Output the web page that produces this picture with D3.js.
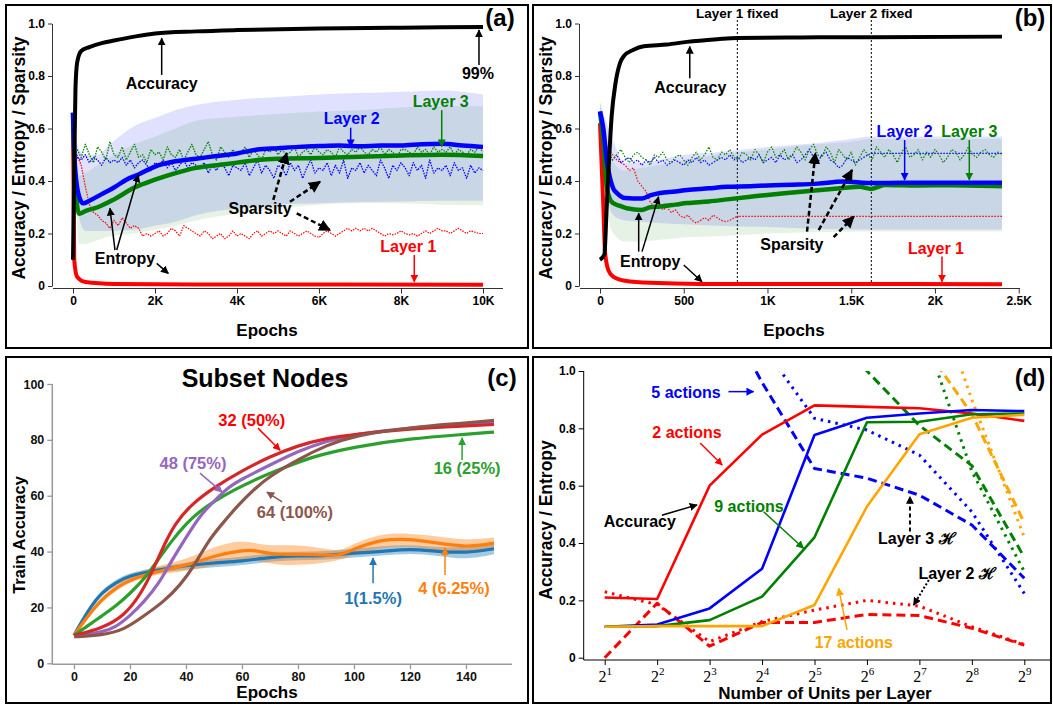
<!DOCTYPE html>
<html>
<head>
<meta charset="utf-8">
<script src="https://cdn.jsdelivr.net/npm/d3@7"></script>
<style>
  body { margin: 0; background: #fff; }
  svg { display: block; }
  text { font-family: "Liberation Sans", Arial, Helvetica, sans-serif; }
</style>
</head>
<body>
<script>
// ---------------- panel (a) data ----------------
const accEpochsA = [0, 30, 60, 100, 200, 400, 700, 1000, 1500, 2000, 3000, 4000, 6000, 8000, 10000];
const accA = [0.1, 0.45, 0.75, 0.85, 0.895, 0.91, 0.925, 0.935, 0.95, 0.962, 0.97, 0.975, 0.981, 0.984, 0.987];
const l1EpochsA = [0, 30, 100, 300, 1000, 3000, 10000];
const l1EntA = [0.62, 0.1, 0.035, 0.015, 0.008, 0.006, 0.005];
const l2EpochsA = [0, 50, 150, 250, 400, 700, 1000, 1300, 1600, 2000, 2500, 3000, 3500, 4000, 4500, 5000, 5500, 6000, 6500, 7000, 7500, 8000, 8500, 9000, 9500, 10000];
const l2EntA = [0.66, 0.45, 0.34, 0.315, 0.325, 0.35, 0.375, 0.405, 0.425, 0.455, 0.475, 0.485, 0.495, 0.505, 0.52, 0.525, 0.53, 0.533, 0.535, 0.532, 0.535, 0.535, 0.54, 0.542, 0.535, 0.53];
const l3EpochsA = [0, 50, 150, 300, 600, 1000, 1500, 2000, 2500, 3000, 3500, 4000, 4500, 5000, 6000, 7000, 8000, 9000, 10000];
const l3EntA = [0.66, 0.4, 0.275, 0.285, 0.3, 0.33, 0.375, 0.405, 0.43, 0.45, 0.46, 0.47, 0.48, 0.485, 0.488, 0.492, 0.497, 0.5, 0.495];
const bandEpochsA = [0, 150, 300, 600, 900, 1500, 2000, 2500, 3000, 4000, 5000, 6000, 7000, 8000, 9000, 10000];
const l2UpA = [0.67, 0.52, 0.5, 0.5, 0.54, 0.61, 0.64, 0.67, 0.69, 0.71, 0.72, 0.73, 0.735, 0.74, 0.745, 0.73];
const l2LoA = [0.66, 0.26, 0.21, 0.21, 0.21, 0.215, 0.23, 0.245, 0.27, 0.295, 0.31, 0.315, 0.32, 0.322, 0.325, 0.325];
const l3UpA = [0.67, 0.42, 0.43, 0.46, 0.49, 0.54, 0.57, 0.6, 0.63, 0.645, 0.655, 0.665, 0.67, 0.68, 0.685, 0.685];
const l3LoA = [0.66, 0.16, 0.16, 0.175, 0.19, 0.2, 0.215, 0.23, 0.25, 0.275, 0.295, 0.31, 0.315, 0.315, 0.31, 0.308];
// sparsity, one value every 100 epochs from epoch 100
const sparStepA = 100;
const l1SparA = [0.50,0.46,0.38,0.31,0.28,0.27,0.25,0.24,0.22,0.25, 0.23,0.26,0.24,0.22,0.23,0.22,0.19,0.20,0.19,0.20,
  0.21,0.19,0.20,0.22,0.21,0.19,0.23,0.22,0.21,0.20, 0.19,0.21,0.20,0.18,0.19,0.20,0.18,0.19,0.21,0.19,
  0.20,0.19,0.18,0.20,0.21,0.19,0.20,0.21,0.20,0.21, 0.20,0.19,0.21,0.20,0.19,0.20,0.21,0.20,0.19,0.185,
  0.20,0.21,0.20,0.19,0.20,0.21,0.22,0.21,0.22,0.21, 0.22,0.21,0.22,0.21,0.20,0.19,0.20,0.195,0.20,0.21,
  0.20,0.195,0.20,0.19,0.20,0.21,0.20,0.21,0.22,0.21, 0.21,0.20,0.21,0.22,0.21,0.20,0.21,0.205,0.20,0.20];
const l2SparA = [0.49,0.48,0.50,0.47,0.49,0.48,0.46,0.49,0.47,0.48, 0.47,0.49,0.46,0.48,0.45,0.47,0.48,0.46,0.44,0.47,
  0.46,0.48,0.45,0.47,0.44,0.46,0.48,0.45,0.47,0.46, 0.45,0.47,0.43,0.46,0.44,0.47,0.45,0.42,0.46,0.45,
  0.44,0.47,0.42,0.45,0.48,0.43,0.46,0.44,0.41,0.46, 0.45,0.42,0.47,0.44,0.46,0.41,0.45,0.48,0.43,0.45,
  0.44,0.47,0.42,0.46,0.43,0.48,0.41,0.45,0.44,0.47, 0.43,0.46,0.44,0.42,0.48,0.45,0.41,0.46,0.44,0.47,
  0.45,0.42,0.47,0.44,0.46,0.41,0.48,0.43,0.45,0.44, 0.46,0.42,0.47,0.44,0.45,0.41,0.46,0.43,0.45,0.44];
const l3SparA = [0.52,0.49,0.54,0.50,0.47,0.53,0.51,0.48,0.55,0.50, 0.49,0.53,0.48,0.51,0.54,0.49,0.50,0.47,0.52,0.50,
  0.51,0.48,0.53,0.50,0.49,0.52,0.48,0.51,0.54,0.50, 0.49,0.52,0.55,0.50,0.48,0.53,0.51,0.49,0.52,0.50,
  0.51,0.53,0.49,0.52,0.50,0.48,0.52,0.51,0.53,0.50, 0.52,0.50,0.51,0.53,0.49,0.51,0.52,0.50,0.53,0.51,
  0.50,0.52,0.51,0.49,0.53,0.51,0.50,0.52,0.51,0.53, 0.51,0.50,0.52,0.51,0.53,0.50,0.52,0.51,0.49,0.52,
  0.52,0.51,0.50,0.53,0.51,0.52,0.50,0.53,0.51,0.52, 0.51,0.53,0.50,0.52,0.51,0.50,0.52,0.51,0.53,0.51];
const ticksA = [0, 2000, 4000, 6000, 8000, 10000];

// ---------------- panel (b) data ----------------
const accEpochsB = [0, 26, 40, 52, 70, 92, 120, 141, 200, 261, 400, 520, 700, 820, 1200, 1620, 2400];
const accB = [0.1, 0.12, 0.3, 0.455, 0.65, 0.77, 0.85, 0.875, 0.9, 0.913, 0.92, 0.93, 0.94, 0.945, 0.947, 0.948, 0.95];
const l1EpochsB = [0, 20, 30, 50, 80, 150, 300, 600, 2400];
const l1EntB = [0.62, 0.3, 0.13, 0.06, 0.035, 0.02, 0.012, 0.008, 0.007];
const l2EpochsB = [0, 20, 40, 60, 80, 100, 150, 250, 300, 360, 450, 520, 650, 760, 900, 1000, 1150, 1300, 1450, 1550, 1620, 1800, 2000, 2200, 2400];
const l2EntB = [0.665, 0.6, 0.48, 0.41, 0.37, 0.355, 0.335, 0.333, 0.345, 0.354, 0.36, 0.366, 0.372, 0.378, 0.38, 0.383, 0.386, 0.39, 0.398, 0.394, 0.392, 0.393, 0.393, 0.393, 0.393];
const l3EpochsB = [0, 20, 40, 60, 80, 120, 160, 250, 300, 360, 450, 520, 650, 760, 900, 1000, 1150, 1300, 1450, 1550, 1620, 1700, 1900, 2100, 2400];
const l3EntB = [0.665, 0.55, 0.38, 0.33, 0.315, 0.305, 0.296, 0.29, 0.3, 0.303, 0.31, 0.316, 0.322, 0.33, 0.34, 0.347, 0.356, 0.365, 0.373, 0.378, 0.37, 0.385, 0.383, 0.384, 0.38];
const bandEpochsB = [0, 40, 80, 150, 250, 350, 500, 700, 1000, 1300, 1500, 1620, 2000, 2400];
const l2UpB = [0.7, 0.62, 0.55, 0.47, 0.47, 0.48, 0.5, 0.51, 0.53, 0.545, 0.56, 0.57, 0.57, 0.57];
const l2LoB = [0.64, 0.35, 0.27, 0.25, 0.245, 0.24, 0.235, 0.23, 0.225, 0.218, 0.215, 0.215, 0.215, 0.215];
const l3UpB = [0.7, 0.55, 0.47, 0.44, 0.45, 0.46, 0.48, 0.5, 0.52, 0.54, 0.55, 0.56, 0.56, 0.56];
const l3LoB = [0.64, 0.3, 0.2, 0.17, 0.17, 0.175, 0.185, 0.19, 0.2, 0.205, 0.207, 0.208, 0.208, 0.208];
const sparStepB = 25;
const l1SparB = [0.55,0.52,0.50,0.48,0.47,0.46,0.44,0.45,0.40,0.38,0.36,0.32,0.30,0.31,0.29,0.30,0.28,0.29,0.27,0.26,
  0.27,0.25,0.24,0.25,0.26,0.25,0.27,0.26,0.25,0.245,0.25,0.26,0.265];
const l1FixedB = 0.265;
const l2SparB = [0.50,0.49,0.48,0.50,0.47,0.48,0.49,0.47,0.48,0.46,0.48,0.47,0.49,0.47,0.48,0.46,0.47,0.48,0.47,0.46,
  0.48,0.47,0.49,0.47,0.48,0.46,0.47,0.48,0.49,0.48,0.50,0.48,0.49,0.47,0.48,0.49,0.48,0.50,0.47,0.48,
  0.49,0.47,0.50,0.48,0.49,0.50,0.47,0.48,0.50,0.52,0.49,0.47,0.50,0.51,0.48,0.47,0.45,0.46,0.49,0.48,
  0.47,0.48,0.49,0.50];
const l2FixedB = 0.505;
const l3SparB = [0.49,0.51,0.48,0.50,0.52,0.49,0.47,0.50,0.51,0.49,0.48,0.46,0.50,0.49,0.51,0.48,0.47,0.49,0.50,0.48,
  0.46,0.49,0.51,0.48,0.50,0.53,0.49,0.48,0.51,0.50,0.52,0.49,0.48,0.51,0.50,0.48,0.52,0.50,0.47,0.51,
  0.53,0.49,0.50,0.52,0.48,0.50,0.53,0.51,0.48,0.52,0.54,0.50,0.49,0.53,0.51,0.47,0.52,0.50,0.48,0.51,
  0.46,0.49,0.52,0.50,0.48,0.53,0.51,0.49,0.52,0.50,0.47,0.51,0.53,0.49,0.50,0.52,0.48,0.51,0.49,0.52,
  0.50,0.47,0.49,0.52,0.51,0.48,0.50,0.53,0.50,0.49,0.51,0.52,0.50,0.49,0.51,0.50];
const fixedEpochsB = [820, 1620];
const fixedLabelsB = ['Layer 1 fixed', 'Layer 2 fixed'];
const ticksB = [0, 500, 1000, 1500, 2000, 2500];
const lastEpochB = 2400;

// ---------------- panel (c) data ----------------
const subsetSeries = [
  { name: '1(1.5%)', color: '#1f77b4',
    x: [0, 5, 10, 15, 20, 30, 40, 50, 60, 70, 80, 90, 100, 110, 120, 130, 140, 150],
    y: [10, 19, 25.5, 29, 31.5, 33.5, 35, 36, 36.5, 38, 38.5, 38.5, 39.5, 40, 41, 40, 39.5, 41],
    up: [10, 20, 26.5, 30, 32.5, 34.5, 36, 37.5, 38, 39.5, 40, 40, 41, 42, 42.5, 41.5, 41.5, 43],
    lo: [10, 18, 24.5, 28, 30.5, 32.5, 33.5, 34.5, 35, 36.5, 37, 37, 38, 38.5, 39.5, 38.5, 37, 39] },
  { name: '4 (6.25%)', color: '#ff7f0e',
    x: [0, 5, 10, 15, 20, 30, 40, 50, 60, 65, 70, 80, 90, 95, 100, 110, 120, 130, 140, 150],
    y: [10, 17, 23, 27, 30, 33, 35, 38.5, 40.5, 40.5, 39, 39, 38.8, 38.5, 41, 44.5, 44.5, 43, 41.5, 43],
    up: [10, 18, 24, 28, 31.5, 35, 37, 42, 44, 43, 42, 42.5, 41, 40, 43, 46.5, 46.5, 45.5, 44, 45],
    lo: [10, 16, 22, 26, 29, 32, 33, 35, 37, 37, 35.5, 35, 36, 37, 39, 41.5, 42, 40.5, 39.5, 41] },
  { name: '16 (25%)', color: '#2ca02c',
    x: [0, 5, 10, 15, 20, 25, 30, 35, 40, 45, 50, 57, 65, 75, 85, 100, 120, 140, 150],
    y: [10, 13.5, 17, 20.5, 25, 30, 37, 44, 50, 54.5, 58, 62, 66, 70, 74, 77.5, 80.5, 82, 82.8] },
  { name: '48 (75%)', color: '#9467bd',
    x: [0, 10, 15, 20, 25, 30, 35, 40, 45, 50, 55, 60, 70, 80, 90, 100, 120, 150],
    y: [10, 11, 13, 17, 22, 28, 37, 45, 53, 58, 63, 66, 71, 76, 79.5, 82, 84.5, 86] },
  { name: '32 (50%)', color: '#d62728',
    x: [0, 10, 18, 24, 28, 32, 36, 42, 50, 60, 70, 80, 90, 100, 120, 140, 150],
    y: [10, 12.5, 17, 25, 33, 42, 50, 57, 63, 69, 74, 78, 80.5, 82, 84, 85, 85.5] },
  { name: '64 (100%)', color: '#8c564b',
    x: [0, 10, 18, 25, 32, 38, 43, 48, 53, 58, 65, 70, 80, 90, 100, 120, 140, 150],
    y: [9.5, 10, 12, 17, 22, 28, 35, 44, 50, 56, 63, 67, 73, 78, 81.5, 84.5, 86, 87] }
];
const ticksCx = [0, 20, 40, 60, 80, 100, 120, 140];
const ticksCy = [0, 20, 40, 60, 80, 100];

// ---------------- panel (d) data ----------------
const unitsD = [2, 4, 8, 16, 32, 64, 128, 256, 512];
const actionNames = ['2 actions', '5 actions', '9 actions', '17 actions'];
const actionColors = ['#ff0000', '#0000ff', '#008000', '#ffa500'];
const accD = [
  [0.21, 0.205, 0.6, 0.778, 0.88, 0.875, 0.87, 0.852, 0.826],
  [0.108, 0.116, 0.172, 0.31, 0.777, 0.837, 0.852, 0.864, 0.86],
  [0.108, 0.11, 0.131, 0.213, 0.42, 0.821, 0.823, 0.849, 0.852],
  [0.108, 0.11, 0.11, 0.11, 0.184, 0.527, 0.779, 0.837, 0.847]
];
const layer3H = [
  [0, 0.19, 0.04, 0.123, 0.123, 0.151, 0.147, 0.103, 0.044],
  [null, null, 1.3, 0.96, 0.66, 0.626, 0.567, 0.463, 0.277],
  [null, null, null, null, 1.25, 1.0, 0.81, 0.67, 0.35],
  [null, null, null, null, null, 1.5, 1.11, 0.85, 0.47]
];
const layer2H = [
  [0.23, 0.185, 0.056, 0.126, 0.166, 0.2, 0.18, 0.108, 0.046],
  [null, null, 1.5, 1.09, 0.835, 0.794, 0.707, 0.509, 0.224],
  [null, null, null, null, null, 1.5, 1.18, 0.65, 0.3],
  [null, null, null, null, null, 1.6, 1.43, 0.9, 0.42]
];
const ticksDy = [0, 0.2, 0.4, 0.6, 0.8, 1.0];

// ---------------- setup ----------------
const svg = d3.select('body').append('svg').attr('width', 1053).attr('height', 707);
const defs = svg.append('defs');
const markerColors = {
  black: '#000', red: '#ff0000', blue: '#0000ff', green: '#008000', orange: '#ffa500',
  tblue: '#1f77b4', torange: '#ff7f0e', tgreen: '#2ca02c', tred: '#d62728', tpurple: '#9467bd', tbrown: '#8c564b'
};
Object.entries(markerColors).forEach(([k, c]) => {
  defs.append('marker').attr('id', 'ah-' + k).attr('viewBox', '0 0 10 10')
    .attr('refX', 9).attr('refY', 5).attr('markerWidth', 8).attr('markerHeight', 8)
    .attr('markerUnits', 'userSpaceOnUse').attr('orient', 'auto')
    .append('path').attr('d', 'M0,0L10,5L0,10z').attr('fill', c);
});
defs.append('marker').attr('id', 'ah-big').attr('viewBox', '0 0 10 10')
  .attr('refX', 9).attr('refY', 5).attr('markerWidth', 12).attr('markerHeight', 12)
  .attr('markerUnits', 'userSpaceOnUse').attr('orient', 'auto')
  .append('path').attr('d', 'M0,0L10,5L0,10z').attr('fill', '#000');

function clip(id, x0, y0, x1, y1) {
  defs.append('clipPath').attr('id', id).append('rect')
    .attr('x', x0).attr('y', y0).attr('width', x1 - x0).attr('height', y1 - y0);
  return 'url(#' + id + ')';
}

function frame(x, y, w, h) {
  svg.append('rect').attr('x', x).attr('y', y).attr('width', w).attr('height', h)
    .attr('fill', 'none').attr('stroke', '#000').attr('stroke-width', 2);
}

function label(g, x, y, txt, opts = {}) {
  return g.append('text').attr('x', x).attr('y', y).attr('dy', '0.35em')
    .attr('text-anchor', opts.anchor || 'middle')
    .attr('font-size', opts.size || 16).attr('font-weight', opts.weight || 'bold')
    .attr('fill', opts.color || '#000').text(txt);
}

function arrow(g, sx, sy, p, q, color, mk, w = 1.5, dash = null) {
  const l = g.append('line')
    .attr('x1', sx(p[0])).attr('y1', sy(p[1])).attr('x2', sx(q[0])).attr('y2', sy(q[1]))
    .attr('stroke', color).attr('stroke-width', w).attr('marker-end', 'url(#' + mk + ')');
  if (dash) l.attr('stroke-dasharray', dash);
}

function series(xs, ys) { return xs.map((d, i) => [d, ys[i]]); }
function stepSeries(step, ys) { return ys.map((v, i) => [(i + 1) * step, v]); }

function drawLine(g, pts, sx, sy, color, w, dash, curve) {
  const line = d3.line().defined(d => d[1] !== null)
    .x(d => sx(d[0])).y(d => sy(d[1])).curve(curve || d3.curveMonotoneX);
  const p = g.append('path').datum(pts).attr('d', line).attr('fill', 'none')
    .attr('stroke', color).attr('stroke-width', w).attr('stroke-linejoin', 'round');
  if (dash) p.attr('stroke-dasharray', dash);
  return p;
}

function drawBand(g, xs, up, lo, sx, sy, color, op, curve) {
  const area = d3.area().x((d, i) => sx(xs[i])).y0((d, i) => sy(lo[i])).y1((d, i) => sy(up[i]))
    .curve(curve || d3.curveMonotoneX);
  g.append('path').datum(xs).attr('d', area).attr('fill', color).attr('fill-opacity', op);
}

// spine-style axes used in panels (a) and (b)
function axesAB(g, sx, sy, ticks, fmt, xLeft, xRight) {
  const yAx = g.append('g').attr('transform', 'translate(52,0)')
    .call(d3.axisLeft(sy).tickValues([0, 0.2, 0.4, 0.6, 0.8, 1.0]).tickSize(4).tickSizeOuter(0)
      .tickFormat(d => d === 0 ? '0' : d3.format('.1f')(d)));
  const xAx = g.append('g').attr('transform', 'translate(0,288.5)')
    .call(d3.axisBottom(sx).tickValues(ticks).tickSize(5).tickSizeOuter(0).tickFormat(fmt));
  [yAx, xAx].forEach(a => {
    a.selectAll('text').attr('font-size', 12).attr('font-weight', 'bold').attr('fill', '#000');
    a.selectAll('line').attr('stroke', '#333');
    a.select('.domain').attr('stroke', '#333');
  });
  xAx.select('.domain').attr('d', `M${xLeft},0H${xRight}`);
}

// ================= panel (a) =================
frame(6, 5, 522, 343);
{
  const g = svg.append('g');
  const x = d3.scaleLinear().domain([0, 10000]).range([73, 483]);
  const y = d3.scaleLinear().domain([0, 1]).range([286, 23.5]);
  axesAB(g, x, y, ticksA, d => d === 0 ? '0' : (d / 1000) + 'K', 53, 503);
  label(g, 267, 330, 'Epochs', { size: 17 });
  label(g, 0, 0, 'Accuracy / Entropy / Sparsity', { size: 17.5 })
    .attr('transform', 'translate(19,158) rotate(-90)');
  label(g, 500, 18, '(a)', { size: 24 });

  const pg = g.append('g').attr('clip-path', clip('clipA', 53, 10, 503, 290));
  drawBand(pg, bandEpochsA, l2UpA, l2LoA, x, y, '#0000ff', 0.12);
  drawBand(pg, bandEpochsA, l3UpA, l3LoA, x, y, '#008000', 0.1);
  drawLine(pg, stepSeries(sparStepA, l1SparA), x, y, '#ff0000', 1.2, '1.5,1.2', d3.curveLinear);
  drawLine(pg, stepSeries(sparStepA, l2SparA), x, y, '#0000ff', 1.3, '1.5,1.2', d3.curveLinear);
  drawLine(pg, stepSeries(sparStepA, l3SparA), x, y, '#008000', 1.3, '1.5,1.2', d3.curveLinear);
  drawLine(pg, series(l1EpochsA, l1EntA), x, y, '#ff0000', 4);
  drawLine(pg, series(l3EpochsA, l3EntA), x, y, '#008000', 4.5);
  drawLine(pg, series(l2EpochsA, l2EntA), x, y, '#0000ff', 4.5);
  drawLine(pg, series(accEpochsA, accA), x, y, '#000', 4);

  label(g, x(2163), y(0.772), 'Accuracy');
  arrow(g, x, y, [2163, 0.804], [2163, 0.944], '#000', 'ah-black');
  label(g, x(9878), y(0.811), '99%');
  arrow(g, x, y, [9902, 0.842], [9902, 0.975], '#000', 'ah-black');
  label(g, x(8968), y(0.702), 'Layer 3', { color: '#008000' });
  arrow(g, x, y, [8993, 0.67], [8993, 0.531], '#008000', 'ah-green');
  label(g, x(6798), y(0.639), 'Layer 2', { color: '#0000ff' });
  arrow(g, x, y, [6773, 0.603], [6773, 0.531], '#0000ff', 'ah-blue');
  label(g, x(8178), y(0.15), 'Layer 1', { color: '#ff0000' });
  arrow(g, x, y, [8324, 0.118], [8324, 0.016], '#ff0000', 'ah-red');
  label(g, x(4561), y(0.296), 'Sparsity');
  arrow(g, x, y, [4885, 0.328], [5212, 0.506], '#000', 'ah-big', 2.5, '5,3');
  arrow(g, x, y, [5293, 0.321], [6024, 0.397], '#000', 'ah-big', 2.5, '5,3');
  arrow(g, x, y, [5456, 0.277], [6268, 0.213], '#000', 'ah-big', 2.5, '5,3');
  label(g, x(1268), y(0.106), 'Entropy');
  arrow(g, x, y, [1024, 0.137], [902, 0.296], '#000', 'ah-black');
  arrow(g, x, y, [1066, 0.137], [1593, 0.423], '#000', 'ah-black');
  arrow(g, x, y, [2041, 0.086], [2324, 0.048], '#000', 'ah-black');
}

// ================= panel (b) =================
frame(533, 5, 518, 343);
{
  const g = svg.append('g');
  const x = d3.scaleLinear().domain([0, 2500]).range([600, 1018.7]);
  const y = d3.scaleLinear().domain([0, 1]).range([286, 23.5]);
  const ag = g.append('g').attr('transform', 'translate(527,0)');
  const xs = x.copy().range([600 - 527, 1018.7 - 527]);
  axesAB(ag, xs, y, ticksB, d => d === 0 ? '0' : d < 1000 ? String(d) : (d / 1000) + 'K', 53, 493);
  label(g, 794, 330, 'Epochs', { size: 17 });
  label(g, 0, 0, 'Accuracy / Entropy / Sparsity', { size: 17.5 })
    .attr('transform', 'translate(546,158) rotate(-90)');
  label(g, 1030, 18, '(b)', { size: 24 });

  fixedEpochsB.forEach((e, i) => {
    g.append('line').attr('x1', x(e)).attr('x2', x(e)).attr('y1', 20).attr('y2', 288)
      .attr('stroke', '#000').attr('stroke-width', 1).attr('stroke-dasharray', '2,2');
    label(g, x(e), 13, fixedLabelsB[i], { size: 13.5 });
  });

  const pg = g.append('g').attr('clip-path', clip('clipB', 580, 22, 1030, 290));
  drawBand(pg, bandEpochsB, l2UpB, l2LoB, x, y, '#0000ff', 0.12);
  drawBand(pg, bandEpochsB, l3UpB, l3LoB, x, y, '#008000', 0.1);
  drawLine(pg, stepSeries(sparStepB, l1SparB).concat([[fixedEpochsB[0], l1FixedB], [lastEpochB, l1FixedB]]),
    x, y, '#ff0000', 1.2, '1.5,1.5', d3.curveLinear);
  drawLine(pg, stepSeries(sparStepB, l2SparB).concat([[fixedEpochsB[1], l2FixedB], [lastEpochB, l2FixedB]]),
    x, y, '#0000ff', 1.2, '1.5,1.5', d3.curveLinear);
  drawLine(pg, stepSeries(sparStepB, l3SparB), x, y, '#008000', 1.2, '1.5,1.5', d3.curveLinear);
  drawLine(pg, series(l1EpochsB, l1EntB), x, y, '#ff0000', 4);
  drawLine(pg, series(l3EpochsB, l3EntB), x, y, '#008000', 4.5);
  drawLine(pg, series(l2EpochsB, l2EntB), x, y, '#0000ff', 4.5);
  drawLine(pg, series(accEpochsB, accB), x, y, '#000', 4);

  label(g, x(539), y(0.757), 'Accuracy');
  arrow(g, x, y, [536, 0.791], [536, 0.912], '#000', 'ah-black');
  label(g, x(1819), y(0.588), 'Layer 2', { color: '#0000ff' });
  arrow(g, x, y, [1819, 0.556], [1819, 0.404], '#0000ff', 'ah-blue');
  label(g, x(2205), y(0.588), 'Layer 3', { color: '#008000' });
  arrow(g, x, y, [2205, 0.556], [2205, 0.404], '#008000', 'ah-green');
  label(g, x(2006), y(0.144), 'Layer 1', { color: '#ff0000' });
  arrow(g, x, y, [2042, 0.112], [2042, 0.016], '#ff0000', 'ah-red');
  label(g, x(1146), y(0.159), 'Sparsity');
  arrow(g, x, y, [1236, 0.207], [1286, 0.506], '#000', 'ah-big', 2.5, '5,3');
  arrow(g, x, y, [1306, 0.213], [1505, 0.442], '#000', 'ah-big', 2.5, '5,3');
  arrow(g, x, y, [1395, 0.186], [1515, 0.264], '#000', 'ah-big', 2.5, '5,3');
  label(g, x(300), y(0.093), 'Entropy');
  arrow(g, x, y, [231, 0.131], [231, 0.277], '#000', 'ah-black');
  arrow(g, x, y, [251, 0.131], [350, 0.34], '#000', 'ah-black');
  arrow(g, x, y, [500, 0.08], [609, 0.016], '#000', 'ah-black');
}

// ================= panel (c) =================
frame(6, 357, 522, 346);
{
  const g = svg.append('g');
  const x = d3.scaleLinear().domain([0, 150]).range([74, 494]);
  const y = d3.scaleLinear().domain([0, 100]).range([663.3, 384]);
  const yAx = g.append('g').attr('transform', 'translate(52.3,0)')
    .call(d3.axisLeft(y).tickValues(ticksCy).tickSize(5).tickSizeOuter(0));
  const xAx = g.append('g').attr('transform', 'translate(0,664.3)')
    .call(d3.axisBottom(x).tickValues(ticksCx).tickSize(5).tickSizeOuter(0));
  [yAx, xAx].forEach(a => {
    a.selectAll('text').attr('font-size', 12.5).attr('font-weight', 'bold').attr('fill', '#111');
    a.selectAll('line').attr('stroke', '#999').attr('stroke-width', 1.3);
    a.select('.domain').attr('stroke', '#999').attr('stroke-width', 1.5);
  });
  xAx.select('.domain').attr('d', 'M52.3,0H512');
  yAx.select('.domain').attr('d', `M0,${y(100)}V${y(0) + 1}`);
  label(g, 267, 692, 'Epochs', { size: 17 });
  label(g, 0, 0, 'Train Accuracy', { size: 16.5 })
    .attr('transform', 'translate(19,535) rotate(-90)');
  label(g, 265, 378, 'Subset Nodes', { size: 25 });
  label(g, 502, 378, '(c)', { size: 24 });

  const pg = g.append('g').attr('clip-path', clip('clipC', 53, 380, 510, 664));
  subsetSeries.filter(s => s.up).forEach(s => drawBand(pg, s.x, s.up, s.lo, x, y, s.color, 0.4, d3.curveBasis));
  subsetSeries.forEach(s => drawLine(pg, series(s.x, s.y), x, y, s.color, 3.2, null, d3.curveBasis));

  label(g, x(63.5), y(87.1), '32 (50%)', { color: '#ff0000', size: 16.5 });
  arrow(g, x, y, [65.7, 84.2], [73.6, 76.3], '#ff0000', 'ah-red');
  label(g, x(42.5), y(71.7), '48 (75%)', { color: '#9467bd', size: 16.5 });
  arrow(g, x, y, [45, 68.1], [52.9, 61.3], '#9467bd', 'ah-tpurple');
  label(g, x(78.9), y(54.2), '64 (100%)', { color: '#8c564b', size: 16.5 });
  arrow(g, x, y, [74.3, 57.8], [68.9, 61.3], '#8c564b', 'ah-tbrown');
  label(g, x(140.4), y(69.9), '16 (25%)', { color: '#2ca02c', size: 16.5 });
  arrow(g, x, y, [138.6, 72.8], [138.6, 80.7], '#2ca02c', 'ah-tgreen');
  label(g, x(106.8), y(23.4), '1(1.5%)', { color: '#1f77b4', size: 16.5 });
  arrow(g, x, y, [106.8, 28.7], [106.8, 37.7], '#1f77b4', 'ah-tblue');
  label(g, x(135.7), y(26.9), '4 (6.25%)', { color: '#ff7f0e', size: 16.5 });
  arrow(g, x, y, [132.5, 31.6], [132.5, 41.3], '#ff7f0e', 'ah-torange');
}

// ================= panel (d) =================
frame(533, 357, 518, 346);
{
  const g = svg.append('g');
  const x = d3.scaleLog().base(2).domain([2, 512]).range([604.7, 1024.3]);
  const y = d3.scaleLinear().domain([0, 1]).range([657.7, 371]);
  const yAx = g.append('g').attr('transform', 'translate(583.7,0)')
    .call(d3.axisLeft(y).tickValues(ticksDy).tickSize(5).tickSizeOuter(0)
      .tickFormat(d => d === 0 ? '0' : d3.format('.1f')(d)));
  yAx.selectAll('text').attr('font-size', 12).attr('font-weight', 'bold').attr('fill', '#000');
  yAx.select('.domain').attr('d', `M0,${y(1)}V660`);
  const xAx = g.append('g').attr('transform', 'translate(0,660)')
    .call(d3.axisBottom(x).tickValues(unitsD).tickSize(5).tickSizeOuter(0).tickFormat(''));
  xAx.select('.domain').attr('d', 'M583.7,0H1050');
  xAx.selectAll('.tick').append('text')
    .attr('y', 22).attr('fill', '#000').attr('text-anchor', 'middle')
    .style('font-family', '"Liberation Serif", "Times New Roman", serif').attr('font-size', 16)
    .each(function (d) {
      const t = d3.select(this);
      t.append('tspan').text('2');
      t.append('tspan').attr('dy', -7).attr('font-size', 11).text(Math.round(Math.log2(d)));
    });
  label(g, 825, 693, 'Number of Units per Layer', { size: 17 });
  label(g, 0, 0, 'Accuracy / Entropy', { size: 17.5 })
    .attr('transform', 'translate(546,520) rotate(-90)');
  label(g, 1030, 378, '(d)', { size: 24 });

  const pg = g.append('g').attr('clip-path', clip('clipD', 584, 371, 1045, 660));
  actionColors.forEach((c, i) => {
    drawLine(pg, series(unitsD, layer3H[i]), x, y, c, 3, '9,5', d3.curveLinear);
    drawLine(pg, series(unitsD, layer2H[i]), x, y, c, 3, '2.5,5', d3.curveLinear);
  });
  actionColors.forEach((c, i) => {
    drawLine(pg, series(unitsD, accD[i]), x, y, c, 2.6, null, d3.curveLinear);
  });

  const lx = v => x(Math.pow(2, v));
  label(g, lx(2.55), y(0.927), actionNames[1], { color: '#0000ff' });
  arrow(g, lx, y, [3.36, 0.928], [3.84, 0.928], '#0000ff', 'ah-blue');
  label(g, lx(2.57), y(0.787), actionNames[0], { color: '#ff0000' });
  arrow(g, lx, y, [2.82, 0.749], [3.24, 0.672], '#ff0000', 'ah-red');
  label(g, lx(1.67), y(0.474), 'Accuracy');
  arrow(g, lx, y, [2.09, 0.497], [2.76, 0.533], '#000', 'ah-black');
  label(g, lx(3.75), y(0.529), actionNames[2], { color: '#008000' });
  arrow(g, lx, y, [4.03, 0.509], [4.79, 0.382], '#008000', 'ah-green');
  label(g, lx(6.95), y(0.417), 'Layer 3 \u210B');
  arrow(g, lx, y, [6.82, 0.44], [6.82, 0.562], '#000', 'ah-black', 2, '4,3');
  label(g, lx(7.72), y(0.295), 'Layer 2 \u210B');
  arrow(g, lx, y, [7.18, 0.271], [6.89, 0.184], '#000', 'ah-black', 2, '2,2');
  label(g, lx(5.75), y(0.052), actionNames[3], { color: '#ffa500' });
  arrow(g, lx, y, [5.62, 0.097], [5.46, 0.242], '#ffa500', 'ah-orange');
}
</script>
</body>
</html>
